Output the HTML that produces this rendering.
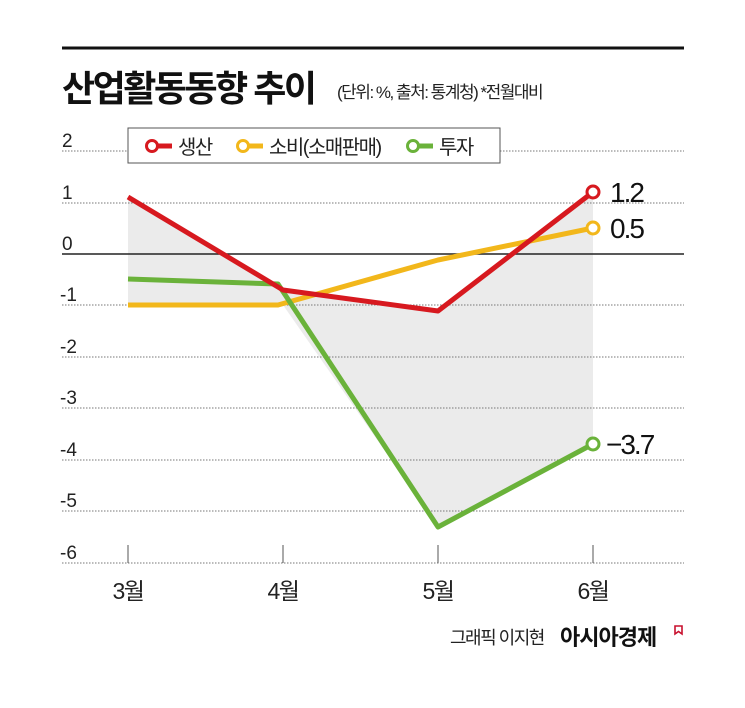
<!DOCTYPE html>
<html><head><meta charset="utf-8"><style>
html,body{margin:0;padding:0;background:#fff;}
body{width:745px;height:703px;overflow:hidden;font-family:"Liberation Sans","Noto Sans CJK KR",sans-serif;}
</style></head><body>
<svg width="745" height="703" xmlns="http://www.w3.org/2000/svg" style="font-family:'Liberation Sans','Noto Sans CJK KR',sans-serif">
<rect width="745" height="703" fill="#fff"/>
<line x1="62" y1="48" x2="684" y2="48" stroke="#111" stroke-width="3"/>
<text x="62" y="101" font-size="36" font-weight="bold" fill="#111" letter-spacing="-2.5">산업활동동향 추이</text>
<text x="337" y="98" font-size="17" fill="#222" letter-spacing="-1.5">(단위: %, 출처: 통계청)  *전월대비</text>
<polygon points="128,197 283,290 438,311 593,192 593,444 438,527 283,305 128,305" fill="#ebebeb"/>
<g stroke="#777" stroke-width="1" stroke-dasharray="1.5,1.5">
<line x1="62" y1="151" x2="684" y2="151"/>
<line x1="62" y1="203" x2="684" y2="203"/>
<line x1="62" y1="305" x2="684" y2="305"/>
<line x1="62" y1="357" x2="684" y2="357"/>
<line x1="62" y1="408" x2="684" y2="408"/>
<line x1="62" y1="460" x2="684" y2="460"/>
<line x1="62" y1="511" x2="684" y2="511"/>
<line x1="62" y1="563" x2="684" y2="563"/>
</g>
<line x1="62" y1="254" x2="684" y2="254" stroke="#222" stroke-width="1.5"/>
<g stroke="#555" stroke-width="1">
<line x1="128" y1="545" x2="128" y2="563"/><line x1="283" y1="545" x2="283" y2="563"/>
<line x1="438" y1="545" x2="438" y2="563"/><line x1="593" y1="545" x2="593" y2="563"/>
</g>
<g font-size="19" fill="#222">
<text x="62" y="147">2</text><text x="62" y="199">1</text><text x="62" y="250">0</text>
<text x="60" y="301">-1</text><text x="60" y="353">-2</text><text x="60" y="404">-3</text>
<text x="60" y="456">-4</text><text x="60" y="507">-5</text><text x="60" y="559">-6</text>
</g>
<g font-size="23" fill="#222" text-anchor="middle" letter-spacing="-1.5">
<text x="128" y="599">3월</text><text x="283" y="599">4월</text><text x="438" y="599">5월</text><text x="593" y="599">6월</text>
</g>
<g fill="none" stroke-width="5" stroke-linejoin="round">
<polyline points="128,305 278,305 438,260 593,228" stroke="#f2b71b"/>
<polyline points="128,279 278,284 438,527 593,444" stroke="#6ab23a"/>
<polyline points="128,197 283,290 438,311 593,192" stroke="#d7191f"/>
</g>
<circle cx="593" cy="192" r="6" fill="#fff" stroke="#d7191f" stroke-width="3"/>
<circle cx="593" cy="228" r="6" fill="#fff" stroke="#f2b71b" stroke-width="3"/>
<circle cx="593" cy="444" r="6" fill="#fff" stroke="#6ab23a" stroke-width="3"/>
<g font-size="28" fill="#111" letter-spacing="-2">
<text x="610" y="202">1.2</text><text x="610" y="238">0.5</text><text x="606" y="454">−3.7</text>
</g>
<rect x="128" y="128" width="372" height="35" fill="#fff" stroke="#555" stroke-width="1"/>
<g stroke-width="3">
<circle cx="152" cy="146" r="5.5" fill="#fff" stroke="#d7191f"/><line x1="158" y1="146" x2="172" y2="146" stroke="#d7191f" stroke-width="5"/>
<circle cx="243" cy="146" r="5.5" fill="#fff" stroke="#f2b71b"/><line x1="249" y1="146" x2="263" y2="146" stroke="#f2b71b" stroke-width="5"/>
<circle cx="413" cy="146" r="5.5" fill="#fff" stroke="#6ab23a"/><line x1="419" y1="146" x2="433" y2="146" stroke="#6ab23a" stroke-width="5"/>
</g>
<g font-size="20" fill="#222" letter-spacing="-1.5">
<text x="178" y="154">생산</text><text x="269" y="154">소비(소매판매)</text><text x="439" y="154">투자</text>
</g>
<text x="450" y="644" font-size="18" fill="#222" letter-spacing="-1.5">그래픽 이지현</text>
<text x="560" y="645" font-size="22" font-weight="bold" fill="#111" letter-spacing="-1">아시아경제</text>
<path d="M675,626 h7 v8 l-3.5,-2.5 l-3.5,2.5 z" fill="none" stroke="#c8102e" stroke-width="1.6"/>
</svg>
</body></html>
